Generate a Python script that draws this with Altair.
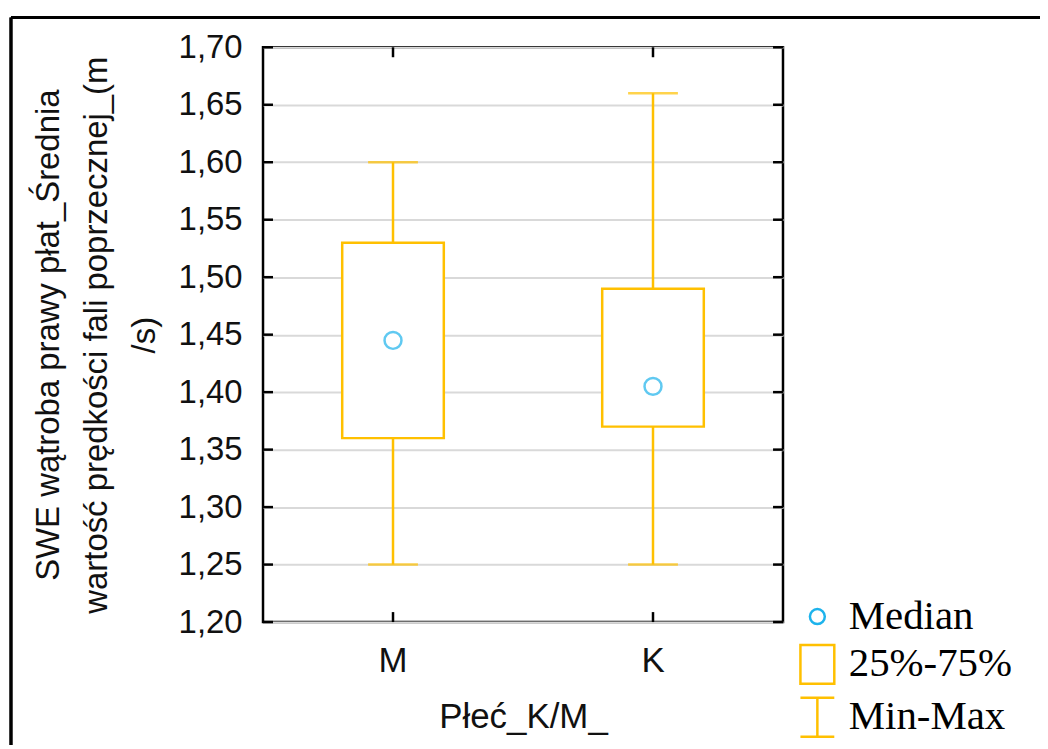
import altair as alt
import pandas as pd

# ---- data ----
groups = ["M", "K"]
mins = [1.25, 1.25]
q1s = [1.36, 1.37]
medians = [1.445, 1.405]
q3s = [1.53, 1.49]
maxs = [1.60, 1.66]
y_ticks = [1.20, 1.25, 1.30, 1.35, 1.40, 1.45, 1.50, 1.55, 1.60, 1.65, 1.70]
legend_items = ["Median", "25%-75%", "Min-Max"]

y_title = ["SWE wątroba prawy płat_Średnia", "wartość prędkości fali poprzecznej_(m", "/s)"]
x_title = "Płeć_K/M_"

ORANGE = "#FFC000"
CYAN = "#1DB3EC"

df = pd.DataFrame({"g": groups, "lo": mins, "q1": q1s, "med": medians, "q3": q3s, "hi": maxs})
ticks_df = pd.DataFrame({"v": y_ticks})
cats_df = pd.DataFrame({"g": groups})
leg_df = pd.DataFrame({"item": legend_items})

W, H = 522, 577

xscale = alt.Scale(domain=groups, paddingInner=0, paddingOuter=0)
yscale = alt.Scale(domain=[1.2, 1.7], nice=False, zero=False)

x_axis = alt.Axis(title=x_title, labelAngle=0, ticks=False, tickSize=0, domain=False,
                  grid=False, labelFont="Liberation Sans", labelFontSize=35,
                  labelColor="#111", labelPadding=22, titleFont="Liberation Sans",
                  titleFontSize=35, titleFontWeight="normal", titleColor="#111",
                  titlePadding=21)
y_axis = alt.Axis(title=y_title, values=y_ticks, ticks=False, tickSize=0, domain=False,
                  grid=True, gridColor="#d9d9d9", gridWidth=2,
                  labelExpr="replace(format(datum.value, '.2f'), '.', ',')",
                  labelFont="Liberation Sans", labelFontSize=33, labelColor="#111",
                  labelPadding=21, titleFont="Liberation Sans", titleFontSize=33,
                  titleFontWeight="normal", titleColor="#111", titleLineHeight=48,
                  titlePadding=17)


def X(field):
    return alt.X(field, type="nominal", scale=xscale, sort=groups, axis=x_axis)


def Y(field):
    return alt.Y(field, type="quantitative", scale=yscale, axis=y_axis)


base = alt.Chart(df)

boxes = base.mark_bar(size=102, fill="white", stroke=ORANGE, strokeWidth=2.5).encode(
    x=X("g"), y=Y("q1"), y2="q3")
whisk_hi = base.mark_rule(color=ORANGE, strokeWidth=2.5).encode(x=X("g"), y=Y("q3"), y2="hi")
whisk_lo = base.mark_rule(color=ORANGE, strokeWidth=2.5).encode(x=X("g"), y=Y("lo"), y2="q1")
cap_hi = base.mark_tick(color=ORANGE, size=50, thickness=2.5, orient="horizontal").encode(
    x=X("g"), y=Y("hi"))
cap_lo = base.mark_tick(color=ORANGE, size=50, thickness=2.5, orient="horizontal").encode(
    x=X("g"), y=Y("lo"))
med = base.mark_point(shape="circle", filled=False, size=289, strokeWidth=2.5, color=CYAN).encode(
    x=X("g"), y=Y("med"))

# inward ticks on all four sides
tk = dict(color="black", strokeWidth=2.5)
lt = alt.Chart(ticks_df).mark_rule(**tk).encode(y=Y("v"), x=alt.value(0), x2=alt.value(10))
rt = alt.Chart(ticks_df).mark_rule(**tk).encode(y=Y("v"), x=alt.value(W - 10), x2=alt.value(W))
tt = alt.Chart(cats_df).mark_rule(**tk).encode(x=X("g"), y=alt.value(0), y2=alt.value(10))
bt = alt.Chart(cats_df).mark_rule(**tk).encode(x=X("g"), y=alt.value(H - 10), y2=alt.value(H))

# outer frame (top and left edges visible in the reference)
frame_top = alt.Chart(cats_df).mark_rule(color="black", strokeWidth=3).encode(
    x=alt.value(-253), x2=alt.value(900), y=alt.value(-30))
frame_left = alt.Chart(cats_df).mark_rule(color="black", strokeWidth=3).encode(
    x=alt.value(-253), y=alt.value(-30), y2=alt.value(900))

# legend
leg_paths = [
    "M-0.44,0A0.44,0.44,0,1,0,0.44,0A0.44,0.44,0,1,0,-0.44,0Z",
    "M-1,-1.15H1V1.15H-1Z",
    "M-1,-1.15H1M0,-1.15V1.15M-1,1.15H1",
]
leg_kw = dict(orient="none", legendX=536, legendY=551, title=None, symbolSize=1156,
              symbolStrokeWidth=2.5, symbolOpacity=1, symbolFillColor="transparent",
              labelFont="Liberation Serif", labelFontSize=41, labelColor="black",
              labelOffset=11, rowPadding=2, padding=0, labelLimit=400)
legend_layer = alt.Chart(leg_df).mark_point(filled=False, opacity=0).encode(
    x=alt.value(0), y=alt.value(0),
    color=alt.Color("item:N", sort=legend_items,
                    scale=alt.Scale(domain=legend_items, range=[CYAN, ORANGE, ORANGE]),
                    legend=alt.Legend(**leg_kw)),
    shape=alt.Shape("item:N", sort=legend_items,
                    scale=alt.Scale(domain=legend_items, range=leg_paths),
                    legend=alt.Legend(**leg_kw)),
)

chart = alt.layer(
    boxes, whisk_hi, whisk_lo, cap_hi, cap_lo, med, lt, rt, tt, bt,
    frame_top, frame_left, legend_layer
).properties(
    width=W, height=H,
    background="white",
    autosize=alt.AutoSizeParams(type="none"),
    padding={"left": 256, "top": 38, "right": 258, "bottom": 122},
).configure_view(stroke="black", strokeWidth=2.5)

chart.save("out.html", embed_options={"renderer": "svg", "actions": False})
